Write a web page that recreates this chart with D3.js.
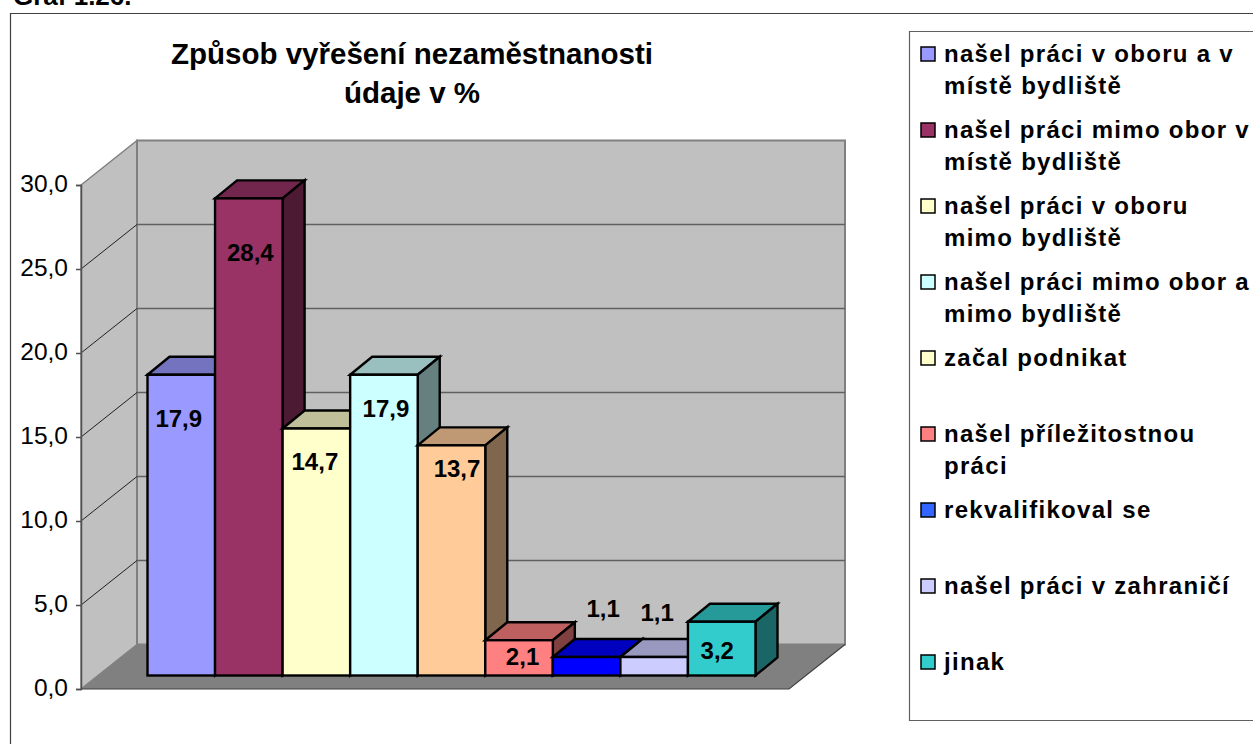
<!DOCTYPE html>
<html><head><meta charset="utf-8">
<script src="https://cdn.jsdelivr.net/npm/d3@7/dist/d3.min.js"></script>
<style>
html,body{margin:0;padding:0;background:#fff;overflow:hidden}
svg{display:block}
text{font-family:"Liberation Sans",Arial,sans-serif;fill:#000}
</style></head><body><svg id="c" width="1253" height="744"></svg>
<script>
const categories = ["našel práci v oboru a v místě bydliště","našel práci mimo obor v místě bydliště","našel práci v oboru mimo bydliště","našel práci mimo obor a mimo bydliště","začal podnikat","našel příležitostnou práci","rekvalifikoval se","našel práci v zahraničí","jinak"];
const values = [17.9,28.4,14.7,17.9,13.7,2.1,1.1,1.1,3.2];
const valueLabels = ["17,9","28,4","14,7","17,9","13,7","2,1","1,1","1,1","3,2"];
const legendLines = [["našel práci v oboru a v","místě bydliště"],["našel práci mimo obor v","místě bydliště"],["našel práci v oboru","mimo bydliště"],["našel práci mimo obor a","mimo bydliště"],["začal podnikat"],["našel příležitostnou","práci"],["rekvalifikoval se"],["našel práci v zahraničí"],["jinak"]];
const yTicks = [0,5,10,15,20,25,30];
const titleLines = ["Způsob vyřešení nezaměstnanosti","údaje v %"];
const barColors = ["#9999FF","#993366","#FFFFCC","#CCFFFF","#FFCC99","#FF8080","#0000FF","#CCCCFF","#33CCCC"];
const legendColors = ["#9999FF","#993366","#FFFFCC","#CCFFFF","#FFFFCC","#FF8080","#3366FF","#CCCCFF","#33CCCC"];
const labelDx = [-2.5,1.5,-1.5,2,5.5,3.5,16.5,3,-4.5];
const labelDy = [52,63,41,42,32,25,-40,-36,37];

const svg = d3.select("#c");
const W = {x0:81, depthX:56, depthY:44.5, width:708};
const y = d3.scaleLinear().domain([0,30]).range([689,185]);
const x = d3.scaleBand().domain(d3.range(values.length)).range([147.5,755.5]);
const base = 675.5, bdx = 22, bdy = 18;
const line = d3.line();
const poly = pts => line(pts)+"Z";

svg.append("text").attr("x",13).attr("y",5).attr("font-size",26).attr("font-weight","bold").text("Graf 1.26.");
svg.append("path").attr("d","M10.5,744V13.5H1253").attr("fill","none").attr("stroke","#404040").attr("stroke-width",1.2);

// walls
const y0=y(0), yT=y(30), xL=W.x0, xR=W.x0+W.width, dx=W.depthX, dy=W.depthY;
svg.append("path").attr("d",poly([[xL,y0],[xL+dx,y0-dy],[xL+dx,yT-dy],[xL,yT]])).attr("fill","#C0C0C0").attr("stroke","#808080").attr("stroke-width",1.5);
svg.append("path").attr("d",poly([[xL+dx,y0-dy],[xR+dx,y0-dy],[xR+dx,yT-dy],[xL+dx,yT-dy]])).attr("fill","#C0C0C0").attr("stroke","#808080").attr("stroke-width",2);
svg.append("path").attr("d",poly([[xL,y0],[xR,y0],[xR+dx,y0-dy],[xL+dx,y0-dy]])).attr("fill","#808080").attr("stroke","none");
// grid
yTicks.filter(t=>t>0&&t<30).forEach(t=>{
  svg.append("path").attr("d",line([[xL,y(t)],[xL+dx,y(t)-dy]])).attr("fill","none").attr("stroke","#202020").attr("stroke-width",1);
  svg.append("path").attr("d",line([[xL+dx,y(t)-dy],[xR+dx,y(t)-dy]])).attr("fill","none").attr("stroke","#606060").attr("stroke-width",1.5);
});
svg.append("path").attr("d",line([[xL,y0],[xR,y0],[xR+dx,y0-dy]])).attr("fill","none").attr("stroke","#404040").attr("stroke-width",1.2);

// axis
const axis = d3.axisLeft(y).tickValues(yTicks).tickSize(5).tickPadding(8).tickFormat(d=>d.toFixed(1).replace(".",","));
const ag = svg.append("g").attr("transform",`translate(${xL},0)`).call(axis);
ag.selectAll("text").attr("font-size",24.5).attr("font-family","'Liberation Sans',Arial,sans-serif").attr("fill","#000").attr("transform","translate(0,-1.5)");
ag.selectAll("path,line").attr("stroke","#505050").attr("stroke-width",1.5);

// bars
const shade=(c,k)=>{const r=d3.rgb(c);return d3.rgb(r.r*k,r.g*k,r.b*k).formatHex();};
const h = v => y(0)-y(v);
const g = svg.selectAll("g.bar").data(values).join("g").attr("class","bar")
  .attr("stroke","#000").attr("stroke-width",2.4).attr("stroke-linejoin","miter");
g.append("path").attr("d",(v,i)=>{const a=x(i),b=a+x.bandwidth(),t=base-h(v);return poly([[a,t],[a+bdx,t-bdy],[b+bdx,t-bdy],[b,t]]);}).attr("fill",(v,i)=>shade(barColors[i],.75));
g.append("path").attr("d",(v,i)=>{const b=x(i)+x.bandwidth(),t=base-h(v);return poly([[b,t],[b+bdx,t-bdy],[b+bdx,base-bdy],[b,base]]);}).attr("fill",(v,i)=>shade(barColors[i],.5));
g.append("rect").attr("x",(v,i)=>x(i)).attr("y",v=>base-h(v)).attr("width",x.bandwidth()).attr("height",v=>h(v)).attr("fill",(v,i)=>barColors[i]);

svg.selectAll("text.val").data(values).join("text").attr("class","val")
  .attr("x",(v,i)=>x(i)+x.bandwidth()/2+labelDx[i]).attr("y",(v,i)=>base-h(v)+labelDy[i])
  .attr("text-anchor","middle").attr("font-size",24).attr("font-weight","bold").text((v,i)=>valueLabels[i]);

// title
svg.selectAll("text.title").data(titleLines).join("text").attr("class","title")
  .attr("x",412).attr("y",(d,i)=>64+i*39).attr("text-anchor","middle").attr("font-size",29.5).attr("font-weight","bold").text(d=>d);

// legend
svg.append("path").attr("d","M1253,31.5H909.5V720.5H1253").attr("fill","#fff").attr("stroke","#606060").attr("stroke-width",1.2);
const leg = d3.scaleBand().domain(d3.range(categories.length)).range([16,700]);
const lg = svg.selectAll("g.leg").data(categories).join("g").attr("class","leg").attr("transform",(d,i)=>`translate(0,${leg(i)})`);
lg.append("rect").attr("x",921).attr("y",31).attr("width",14).attr("height",14).attr("fill",(d,i)=>legendColors[i]).attr("stroke","#000").attr("stroke-width",1.5);
lg.selectAll("text").data((d,i)=>legendLines[i]).join("text").attr("x",944).attr("y",(d,i)=>46+i*32)
  .attr("font-size",24).attr("font-weight","bold").attr("letter-spacing",1.3).text(d=>d);
</script></body></html>
